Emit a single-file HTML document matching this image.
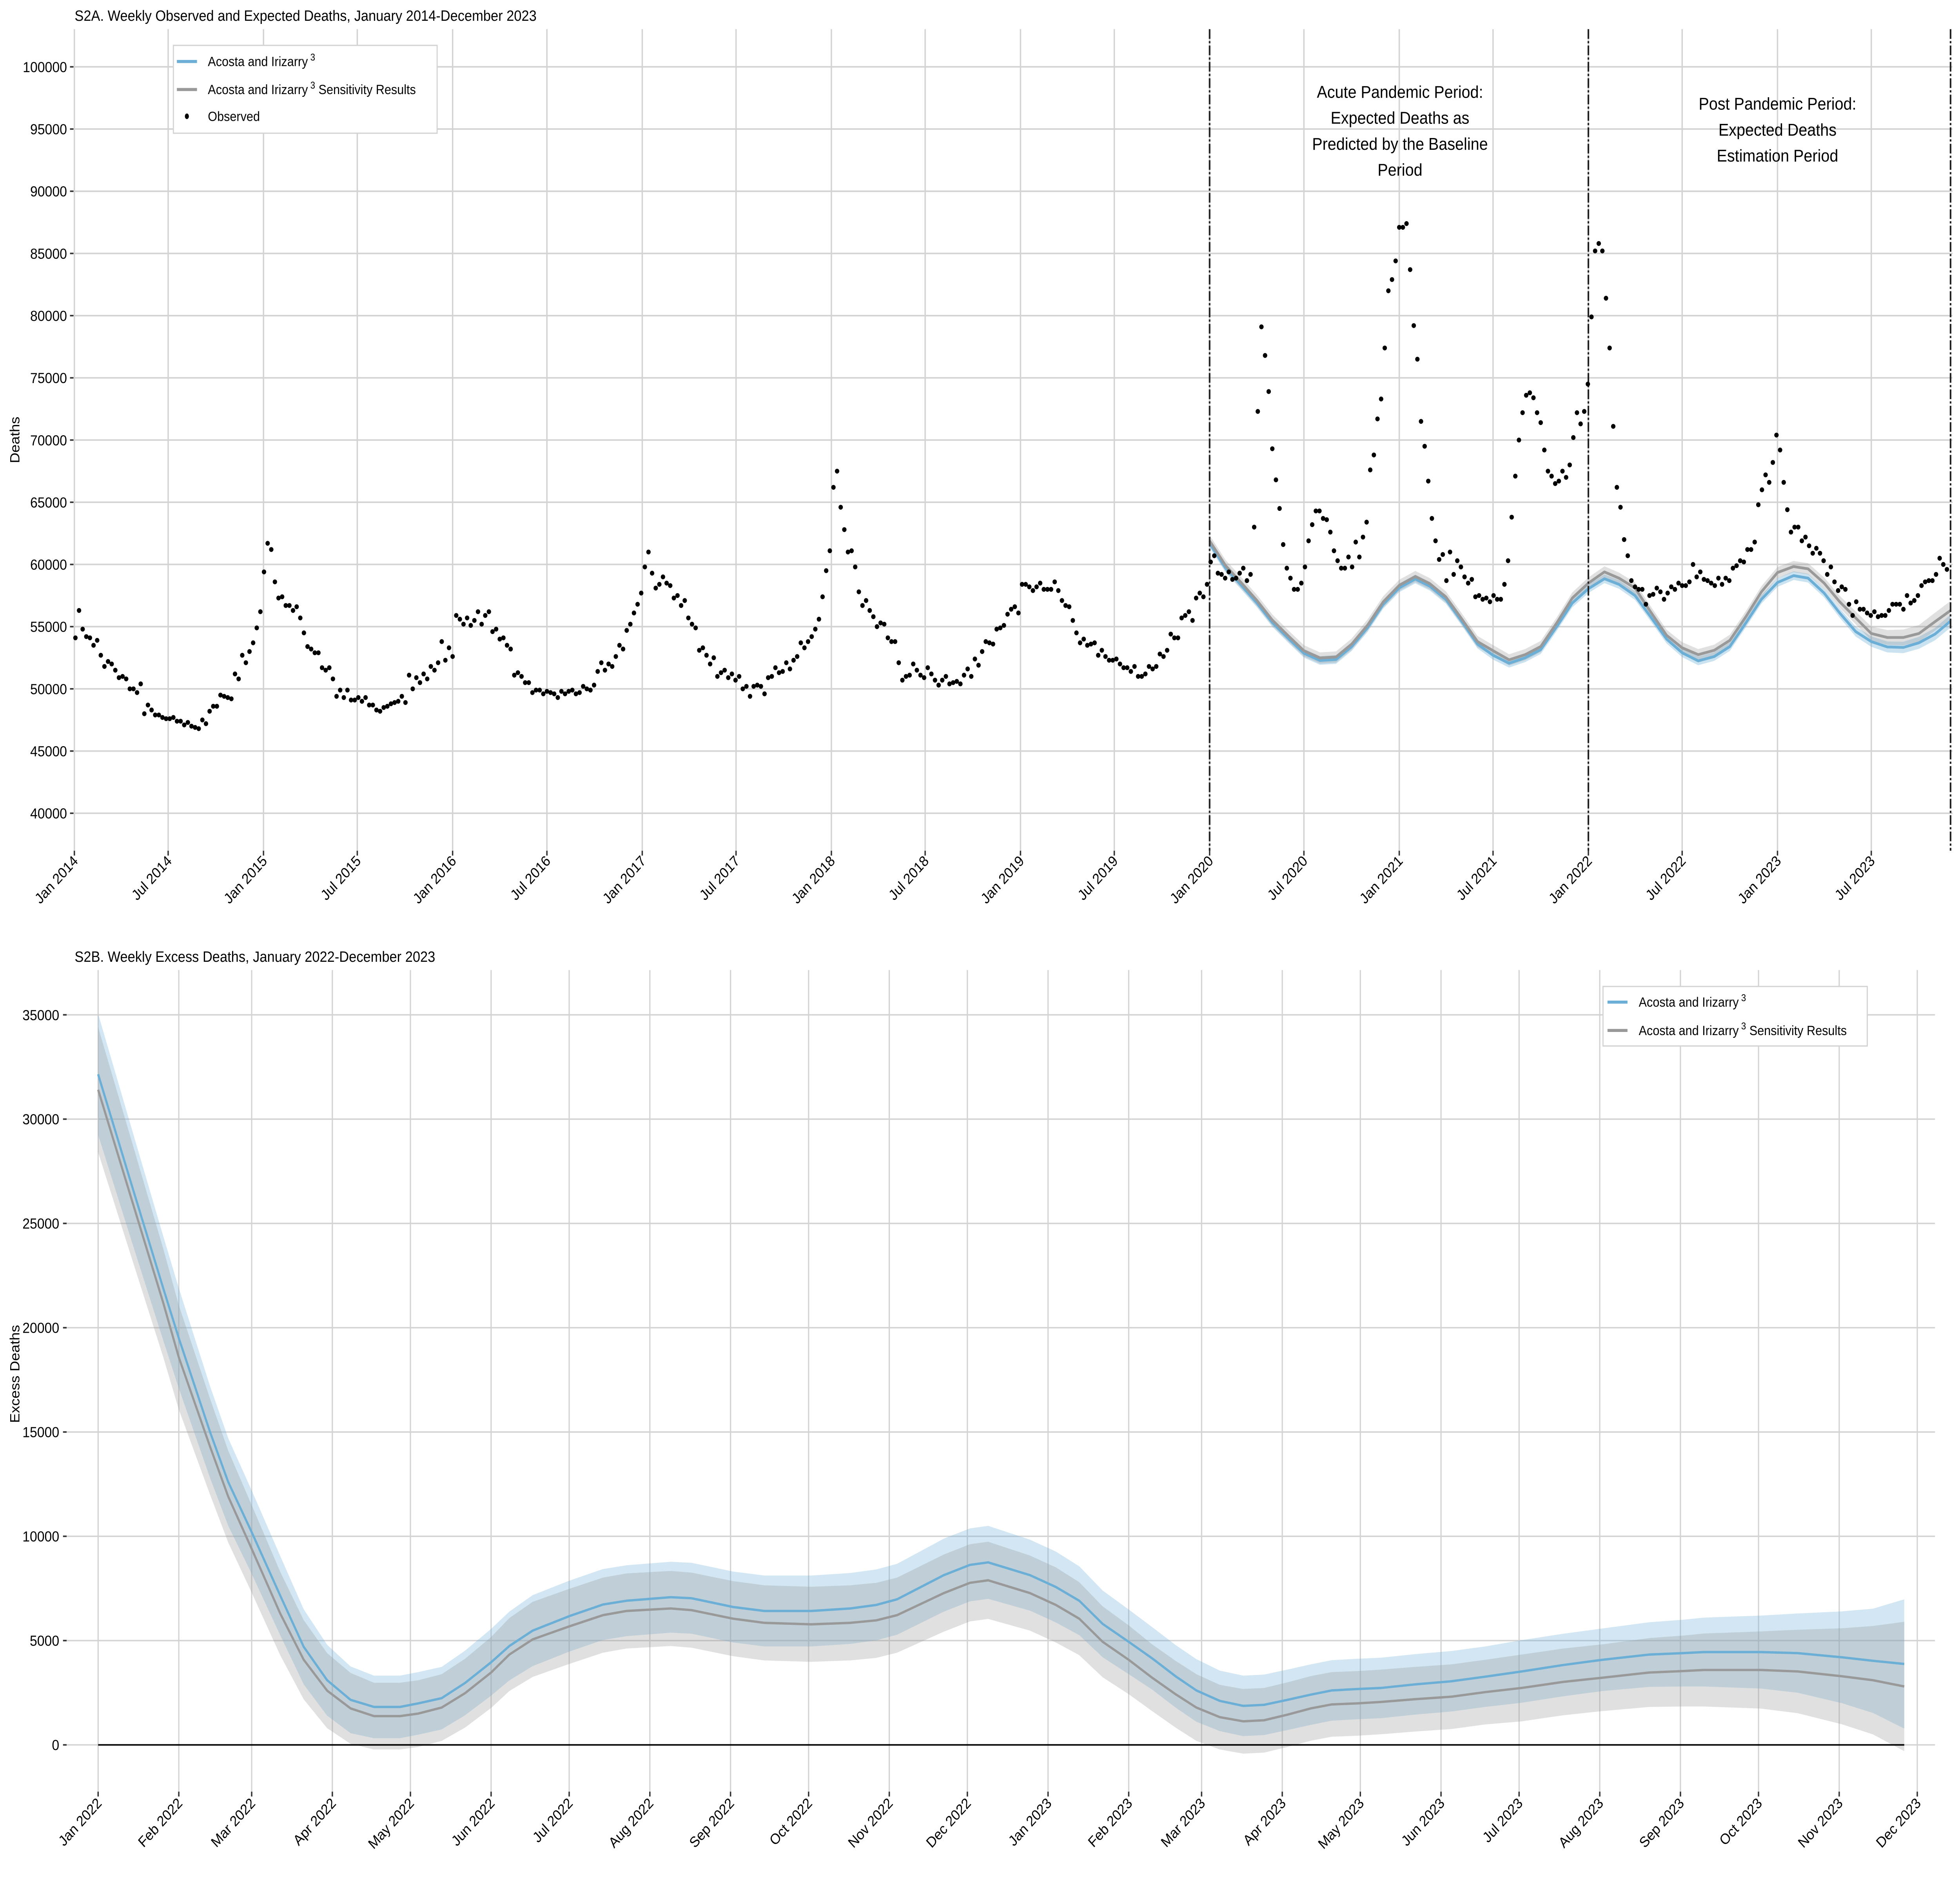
<!DOCTYPE html>
<html><head><meta charset="utf-8"><title>S2 Weekly Deaths</title>
<style>
html,body{margin:0;padding:0;background:#fff;overflow:hidden;width:100%;height:100%;}
svg{display:block;position:absolute;left:0;top:0;width:100vw;height:100vh;font-family:"Liberation Sans",Arial,sans-serif;}
</style></head>
<body>
<svg id="fig" xmlns="http://www.w3.org/2000/svg" preserveAspectRatio="none" viewBox="0 0 1568 1356.1">
<rect x="0" y="0" width="1568" height="1356.1" fill="#fff"/>
<g id="topPanel"></g>
<g id="botPanel"></g>
</svg>
<script>
// ---------- Panel A data ----------
const topYTicks = [40000,45000,50000,55000,60000,65000,70000,75000,80000,85000,90000,95000,100000];
const obsStart = [2014,0,3];
// observed weekly deaths (hundreds)
const observed = [
541,563,548,542,541,535,539,527,518,522,520,515,509,510,508,500,500,497,504,480,
487,483,479,479,477,476,476,477,474,474,471,473,470,469,468,475,472,482,486,486,
495,494,493,492,512,508,527,521,530,537,549,562,594,617,612,586,573,574,567,567,
563,566,557,545,534,532,529,529,517,515,517,508,494,499,493,499,491,491,493,490,
493,487,487,483,482,485,486,488,489,490,494,489,511,500,509,505,512,508,518,515,
521,538,523,533,526,559,556,552,557,551,555,562,552,559,562,546,548,540,541,535,
532,511,513,510,505,505,497,499,499,496,498,497,496,
493,498,496,498,499,496,497,502,500,499,503,514,521,515,520,518,526,535,532,547,
552,561,568,577,598,610,593,581,584,590,585,583,573,575,567,571,557,552,549,531,
533,527,520,525,510,513,515,509,512,507,510,500,502,494,502,503,502,496,509,510,
517,513,514,521,516,523,526,537,533,538,542,548,556,574,595,611,662,675,646,628,
610,611,598,578,567,571,563,558,550,553,552,541,538,538,521,507,510,511,520,515,
511,509,517,512,507,503,507,510,504,505,506,504,511,516,510,524,519,530,538,537,
536,548,549,551,560,564,566,561,584,584,582,579,
582,585,580,580,580,586,579,571,567,566,555,545,537,540,535,536,537,527,531,
526,523,523,524,520,517,517,514,518,510,510,512,518,516,518,528,526,531,544,541,
541,557,559,562,555,573,577,574,584,602,607,593,592,589,594,588,589,593,597,587,
592,630,723,791,768,739,693,668,645,616,597,589,580,580,585,598,619,632,643,643,
637,636,626,611,603,597,597,606,598,618,606,622,634,676,688,717,733,774,820,829,
844,871,871,874,837,792,765,715,695,667,637,619,604,608,587,610,592,603,598,590,
585,588,574,575,572,573,570,575,
572,572,584,603,638,671,700,722,736,738,734,722,714,692,675,671,665,667,675,670,
680,702,722,713,723,745,799,852,858,852,814,774,711,662,646,620,607,587,582,580,
580,568,575,576,581,578,572,577,582,580,585,583,583,586,600,590,594,588,587,585,
583,589,584,589,587,597,599,603,602,612,612,618,648,660,672,666,682,704,692,666,
644,626,630,630,619,622,615,609,613,609,603,592,598,586,579,582,580,568,559,570,
564,564,561,559,562,558,559,559,563,568,568,568,564,575,569,571,575,583,586,587,
587,592,605,600,596];
// expected deaths, monthly from Jan 2020 to Dec 2023
const expStart = [2020,0,1];
const expectedBlue = [
61700,59700,58380,56920,55330,54050,52860,52280,52360,53390,54930,56790,
58120,58830,58250,57190,55460,53600,52700,52060,52500,53150,55000,56900,
58050,58850,58400,57500,55800,54000,52900,52250,52600,53400,55300,57200,
58550,59100,58900,57700,56100,54600,53800,53370,53330,53700,54400,55450];
const expectedGray = [
61900,59900,58580,57120,55530,54250,53060,52480,52560,53590,55130,56990,
58320,59030,58450,57390,55660,53800,53070,52330,52750,53400,55300,57300,
58500,59400,58900,58100,56200,54300,53300,52750,53100,53900,55800,57800,
59350,59830,59650,58500,57000,55700,54450,54130,54130,54450,55400,56300];
const expectedBlueCI = [350,350,350,350,350,350,350,350,350,350,350,350,350,350,350,350,350,350,350,350,350,350,350,350,350,350,350,350,350,350,350,350,350,350,350,350,350,350,350,350,380,400,420,440,460,480,500,520];
const expectedGrayCI = [450,450,450,450,450,450,450,450,450,450,450,450,450,450,450,450,450,450,450,450,450,450,450,450,450,450,450,450,450,450,450,450,450,450,450,450,450,450,450,450,480,520,560,600,640,680,720,760];
const periodLines = [[2020,0,1],[2022,0,1],[2023,11,1]];

// ---------- Panel B data ----------
const excessYTicks = [0,5000,10000,15000,20000,25000,30000,35000];
const excessDays = [0,13,25,31,43,50,59,70,79,88,97,106,116,123,132,141,151,158,167,181,
194,203,220,228,244,256,274,289,299,307,325,335,342,358,368,377,386,396,405,414,
422,431,440,448,457,466,474,484,493,506,520,533,547,563,578,596,609,617,639,653,670,682,694];
const excessBlue = [32150,26800,21900,19500,15000,12600,10200,7150,4700,3100,
2160,1820,1820,1990,2240,2970,3960,4740,5480,6170,
6730,6910,7080,7030,6610,6420,6420,6540,6710,6980,
8140,8630,8750,8140,7570,6910,5800,4940,4150,3290,
2610,2110,1870,1920,2160,2410,2610,2680,2730,2900,
3050,3270,3520,3830,4080,4330,4400,4450,4450,4400,4200,4030,3880];
const excessGray = [31410,26100,21200,18580,14300,11900,9400,6290,4080,2600,
1750,1380,1380,1500,1790,2480,3470,4330,5060,5680,
6220,6420,6540,6460,6050,5850,5780,5850,5970,6220,
7280,7770,7890,7280,6710,6050,4940,4080,3220,2430,
1790,1330,1130,1180,1450,1750,1940,1990,2060,2190,
2310,2530,2730,3020,3220,3470,3540,3590,3590,3520,3290,3100,2800];
const excessBlueCI = [2900,2700,2500,2400,2200,2100,2000,1900,1800,1700,
1600,1500,1500,1500,1500,1550,1600,1650,1700,1700,
1700,1700,1700,1700,1700,1700,1700,1700,1700,1700,
1750,1750,1750,1700,1700,1650,1600,1550,1500,1500,
1500,1450,1450,1450,1450,1450,1450,1450,1450,1450,
1450,1450,1500,1500,1500,1550,1600,1650,1750,1900,2200,2500,3100];
const excessGrayCI = [3000,2800,2600,2500,2300,2200,2100,2000,1900,1800,
1700,1600,1600,1600,1600,1650,1700,1750,1800,1800,
1800,1800,1800,1800,1800,1800,1800,1800,1800,1800,
1850,1850,1850,1800,1800,1750,1700,1650,1600,1600,
1600,1550,1550,1550,1550,1550,1550,1550,1550,1550,
1550,1550,1600,1600,1600,1650,1700,1750,1850,2000,2300,2600,3100];
const monthNames = ["Jan","Feb","Mar","Apr","May","Jun","Jul","Aug","Sep","Oct","Nov","Dec"];

// ---------- helpers ----------
const NS = "http://www.w3.org/2000/svg";
function mk(parent, tag, attrs){
  const e = document.createElementNS(NS, tag);
  for (const k in attrs) e.setAttribute(k, attrs[k]);
  parent.appendChild(e);
  return e;
}
const DAY = 86400000;
function dayFrom(base, y, m, d){ return (Date.UTC(y,m,d) - Date.UTC(base[0],base[1],base[2]))/DAY; }
function ribbon(parent, xs, vals, ci, fy, fill){
  let d = '';
  xs.forEach((x,i)=>{ d += (i?'L':'M')+x.toFixed(2)+','+fy(vals[i]+ci[i]).toFixed(2); });
  for (let i=xs.length-1;i>=0;i--) d += 'L'+xs[i].toFixed(2)+','+fy(vals[i]-ci[i]).toFixed(2);
  return mk(parent,'path',{d:d+'Z',fill:fill});
}
function drawLine(parent, xs, vals, fy, stroke, w){
  let d=''; xs.forEach((x,i)=>{ d += (i?'L':'M')+x.toFixed(2)+','+fy(vals[i]).toFixed(2); });
  return mk(parent,'path',{d:d,fill:'none',stroke:stroke,'stroke-width':w,'stroke-linejoin':'round'});
}
function legEntry(g, x1, x2, tx, y, color, label, sup, rest){
  const e = mk(g,'g',{});
  if (color) mk(e,'line',{x1:x1,x2:x2,y1:y,y2:y,stroke:color,'stroke-width':2.2});
  const tx1 = mk(e,'text',{x:tx,y:y+3.3,'font-size':9.6,fill:'#000'});
  tx1.textContent = label;
  if (sup){
    const ts = mk(tx1,'tspan',{'font-size':7,dy:-4}); ts.textContent = ' '+sup;
    if (rest){ const tr = mk(tx1,'tspan',{dy:4}); tr.textContent = ' '+rest; }
  }
  return e;
}

// ---------- Panel A ----------
const topG = document.getElementById('topPanel');
const A = {x0:59.5, perDay:151.4/365.25, y0:586, perUnit:44.82/5000, left:58.6, right:1562, top:21, bottom:613};
function ax(day){ return A.x0 + day*A.perDay; }
function ay(v){ return A.y0 - (v-40000)*A.perUnit; }

let t = mk(topG,'text',{x:59.7,y:15,'font-size':10.8,fill:'#000'});
t.textContent = "S2A. Weekly Observed and Expected Deaths, January 2014-December 2023";



topYTicks.forEach(v=>{
  const y = ay(v);
  const g = mk(topG,'line',{x1:A.left,x2:A.right,y1:y,y2:y,stroke:'#d3d3d3','stroke-width':1.1});
  
  
  const tk = mk(topG,'line',{x1:56,x2:58.8,y1:y,y2:y,stroke:'#333','stroke-width':1.1});
  
  
  const lb = mk(topG,'text',{x:53.6,y:y+3.8,'font-size':10.6,'text-anchor':'end',fill:'#000'});
  lb.textContent = String(v);
  
  
});
for (let yr=2014; yr<=2023; yr++){
  for (const m of [0,6]){
    const x = ax(dayFrom([2014,0,1],yr,m,1));
    const g = mk(topG,'line',{x1:x,x2:x,y1:A.top,y2:A.bottom,stroke:'#d3d3d3','stroke-width':1.1});
    
    
    const tk = mk(topG,'line',{x1:x,x2:x,y1:A.bottom,y2:616.5,stroke:'#333','stroke-width':1.1});
    
    
    const lb = mk(topG,'text',{x:x+3.5,y:621,'font-size':10.6,'text-anchor':'end',fill:'#000',transform:`rotate(-45 ${x+3.5} 621)`});
    lb.textContent = monthNames[m]+" "+yr;
    
    
  }
}
t = mk(topG,'text',{x:15.5,y:317,'font-size':10.6,'text-anchor':'middle',transform:'rotate(-90 15.5 317)',fill:'#000'});
t.textContent = "Deaths";



function monthDay(k){ return dayFrom([2014,0,1], expStart[0]+Math.floor((expStart[1]+k)/12), (expStart[1]+k)%12, 1); }
const expX = expectedBlue.map((v,k)=>ax(monthDay(k)));
let r = ribbon(topG, expX, expectedBlue, expectedBlueCI, ay, 'rgba(107,174,214,0.35)');


r = ribbon(topG, expX, expectedGray, expectedGrayCI, ay, 'rgba(153,153,153,0.3)');


let l = drawLine(topG, expX, expectedBlue, ay, '#6baed6', 2);


l = drawLine(topG, expX, expectedGray, ay, '#999999', 2);



periodLines.forEach(p=>{
  const x = ax(dayFrom([2014,0,1],p[0],p[1],p[2]));
  const dl = mk(topG,'line',{x1:x,x2:x,y1:A.top,y2:A.bottom,stroke:'#222','stroke-width':1.3,'stroke-dasharray':'7,1.6,1.6,1.6'});
  
  
});

const obsBase = dayFrom([2014,0,1],obsStart[0],obsStart[1],obsStart[2]);
observed.forEach((v,i)=>{
  const c = mk(topG,'circle',{cx:ax(obsBase+7*i),cy:ay(v*100),r:1.75,fill:'#000'});
  
  
});

const ann1 = ["Acute Pandemic Period:","Expected Deaths as","Predicted by the Baseline","Period"];
ann1.forEach((s,i)=>{
  const a = mk(topG,'text',{x:1120,y:70.5+i*18.7,'font-size':12.4,'text-anchor':'middle',fill:'#000'});
  a.textContent = s;
  
  
});
const ann2 = ["Post Pandemic Period:","Expected Deaths","Estimation Period"];
ann2.forEach((s,i)=>{
  const a = mk(topG,'text',{x:1422,y:79+i*18.7,'font-size':12.4,'text-anchor':'middle',fill:'#000'});
  a.textContent = s;
  
  
});

const legA = mk(topG,'g',{});


mk(legA,'rect',{x:138.7,y:32.7,width:211,height:63.3,fill:'#fff',stroke:'#d3d3d3','stroke-width':0.9});
let le = legEntry(legA,141.5,157.6,166.3,44.3,'#6baed6','Acosta and Irizarry','3','');


le = legEntry(legA,141.5,157.6,166.3,64.5,'#999999','Acosta and Irizarry','3','Sensitivity  Results');


le = legEntry(legA,0,0,166.3,83.8,null,'Observed','','');


mk(le,'ellipse',{cx:149.5,cy:83.8,rx:1.6,ry:2,fill:'#000'});

// ---------- Panel B ----------
const botG = document.getElementById('botPanel');
const B = {x0:78.5, perDay:2.082, y0:1257.3, perUnit:75.15/5000, left:53.3, right:1548, top:699, bottom:1291};
function bx(day){ return B.x0 + day*B.perDay; }
function by(v){ return B.y0 - v*B.perUnit; }

t = mk(botG,'text',{x:59.7,y:693,'font-size':10.8,fill:'#000'});
t.textContent = "S2B. Weekly Excess Deaths, January 2022-December 2023";



excessYTicks.forEach(v=>{
  const y = by(v);
  const g = mk(botG,'line',{x1:B.left,x2:B.right,y1:y,y2:y,stroke:'#d3d3d3','stroke-width':1});
  
  
  const tk = mk(botG,'line',{x1:50.4,x2:53.3,y1:y,y2:y,stroke:'#333','stroke-width':1.1});
  
  
  const lb = mk(botG,'text',{x:47.4,y:y+3.8,'font-size':10.6,'text-anchor':'end',fill:'#000'});
  lb.textContent = String(v);
  
  
});
for (let k=0;k<24;k++){
  const yr = 2022+Math.floor(k/12), m = k%12;
  const x = bx(dayFrom([2022,0,1],yr,m,1));
  const g = mk(botG,'line',{x1:x,x2:x,y1:B.top,y2:B.bottom,stroke:'#d3d3d3','stroke-width':1});
  
  
  const tk = mk(botG,'line',{x1:x,x2:x,y1:B.bottom,y2:1294.5,stroke:'#333','stroke-width':1.1});
  
  
  const lb = mk(botG,'text',{x:x+3.5,y:1300,'font-size':10.6,'text-anchor':'end',fill:'#000',transform:`rotate(-45 ${x+3.5} 1300)`});
  lb.textContent = monthNames[m]+" "+yr;
  
  
}
t = mk(botG,'text',{x:15.5,y:990,'font-size':10.6,'text-anchor':'middle',transform:'rotate(-90 15.5 990)',fill:'#000'});
t.textContent = "Excess Deaths";



const exX = excessDays.map(d=>bx(d));
r = ribbon(botG, exX, excessBlue, excessBlueCI, by, 'rgba(107,174,214,0.3)');


r = ribbon(botG, exX, excessGray, excessGrayCI, by, 'rgba(153,153,153,0.3)');


const zl = mk(botG,'line',{x1:exX[0],x2:exX[exX.length-1],y1:by(0),y2:by(0),stroke:'#000','stroke-width':1.1});


l = drawLine(botG, exX, excessBlue, by, '#6baed6', 1.7);


l = drawLine(botG, exX, excessGray, by, '#999999', 1.7);



const legB = mk(botG,'g',{});


mk(legB,'rect',{x:1282.4,y:710.8,width:211.4,height:42.9,fill:'#fff',stroke:'#d3d3d3','stroke-width':0.9});
le = legEntry(legB,1286,1302,1311,722.1,'#6baed6','Acosta and Irizarry','3','');


le = legEntry(legB,1286,1302,1311,742.5,'#999999','Acosta and Irizarry','3','Sensitivity  Results');


</script>
</body></html>
